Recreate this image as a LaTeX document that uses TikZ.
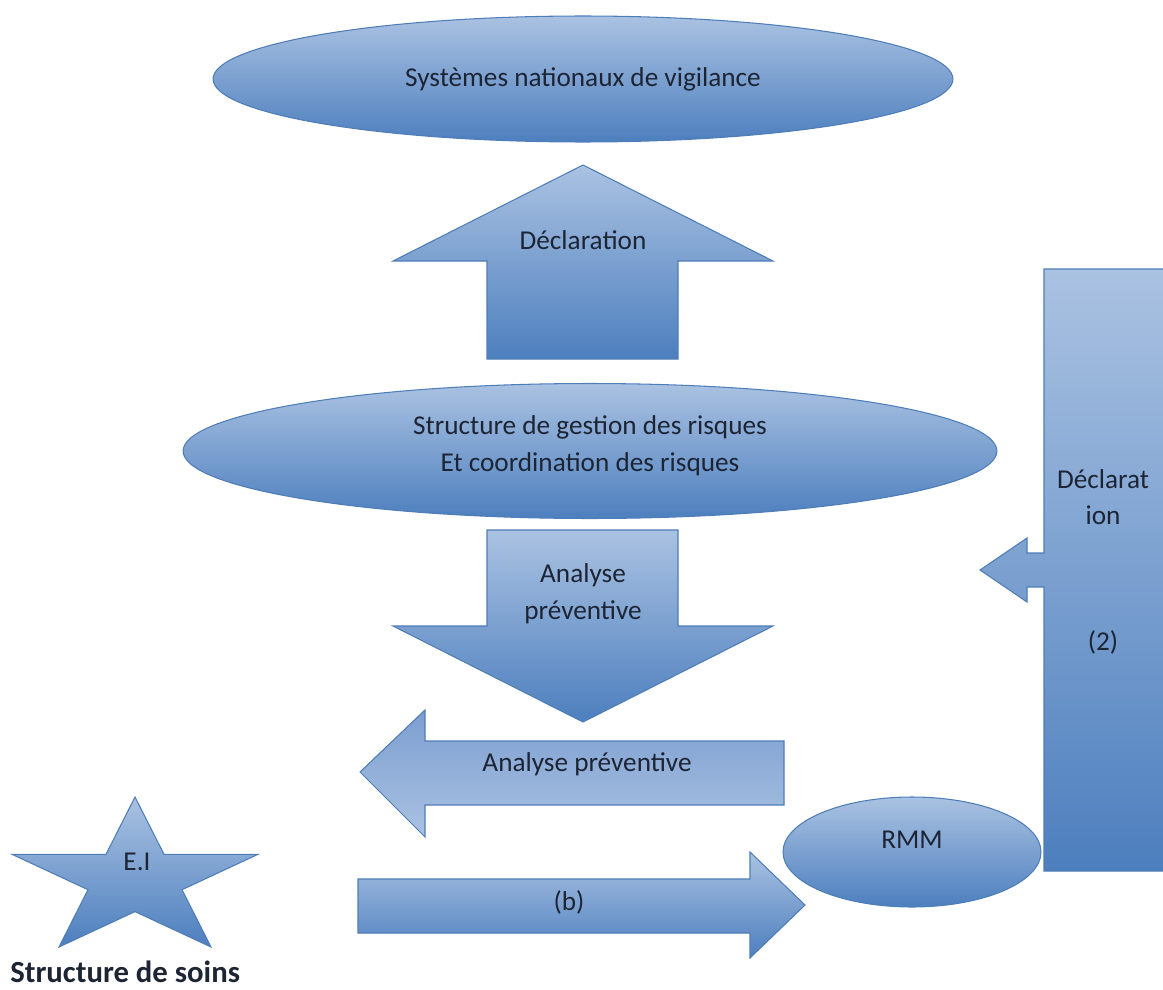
\documentclass[tikz,border=0pt]{standalone}
\usepackage{fontspec}
\setmainfont{Carlito}
\usetikzlibrary{shapes.geometric}
\definecolor{blight}{HTML}{AAC2E2}
\definecolor{bdark}{HTML}{4D7FBE}
\definecolor{bmid}{HTML}{7C9ED0}
\definecolor{bline}{HTML}{4F7DB8}
\definecolor{txt}{HTML}{1D2535}
\begin{document}
\begin{tikzpicture}[x=0.02cm,y=-0.02cm,
  shapefill/.style={top color=blight, bottom color=bdark, draw=bline, line width=0.6pt},
  revfill/.style={top color=bmid, bottom color=blight, draw=bline, line width=0.6pt},
  lbl/.style={text=txt, font=\fontsize{15.5}{21}\selectfont, align=center, inner sep=0pt},
  ovalnode/.style={ellipse, shapefill, inner sep=0pt},
]
\useasboundingbox (0,0) rectangle (1163,990);

% top ellipse
\node[ovalnode, minimum width=14.8cm, minimum height=2.52cm] (sys) at (583,79) {};
\node[lbl] (systxt) at (583,79) {Systèmes nationaux de vigilance};

% up arrow
\path[shapefill] (583,165) -- (773,261) -- (678,261) -- (678,359) -- (487,359) -- (487,261) -- (393,261) -- cycle;
\node[lbl] (decl) at (583,240) {Déclaration};

% middle ellipse
\node[ovalnode, minimum width=16.28cm, minimum height=2.7cm] (sgr) at (590,451) {};
\node[lbl] (sgrtxt) at (590,446) {Structure de gestion des risques\\Et coordination des risques};

% down arrow
\path[shapefill] (487,530) -- (678,530) -- (678,626) -- (773,626) -- (583,722) -- (393,626) -- (487,626) -- cycle;
\node[lbl] (ap1) at (583,594) {Analyse\\préventive};

% left arrow
\path[revfill] (360,772) -- (425,710) -- (425,741) -- (784,741) -- (784,805) -- (425,805) -- (425,837) -- cycle;
\node[lbl] (ap2) at (587,764) {Analyse préventive};

% right arrow (b)
\path[shapefill] (358,879) -- (750,879) -- (750,852) -- (805,905) -- (750,958) -- (750,933) -- (358,933) -- cycle;
\node[lbl] (btxt) at (569,902) {(b)};

% RMM
\node[ovalnode, minimum width=5.16cm, minimum height=2.2cm] (rmm) at (912,852) {};
\node[lbl] (rmmtxt) at (912,840) {RMM};

% tall rectangle with callout arrow
\path[shapefill] (1044,269) -- (1166,269) -- (1166,871) -- (1044,871) -- (1044,587) -- (1027,587) -- (1027,602) -- (980,570) -- (1027,538) -- (1027,553) -- (1044,553) -- cycle;
\node[lbl] (d2a) at (1103,479) {Déclarat};
\node[lbl] (d2b) at (1103,515) {ion};
\node[lbl] (d2c) at (1103,642) {(2)};

% star
\path[shapefill] (135,797) -- (164,854.3) -- (258,854.3) -- (182,889.7) -- (211,947) -- (135,911.6) -- (59,947) -- (88,889.7) -- (12,854.3) -- (106,854.3) -- cycle;
\node[lbl] (ei) at (137,862) {E.I};
\node[lbl, font=\fontsize{17.5}{21}\selectfont\bfseries, anchor=west] (sds) at (10,972) {Structure de soins};
\end{tikzpicture}
\end{document}
